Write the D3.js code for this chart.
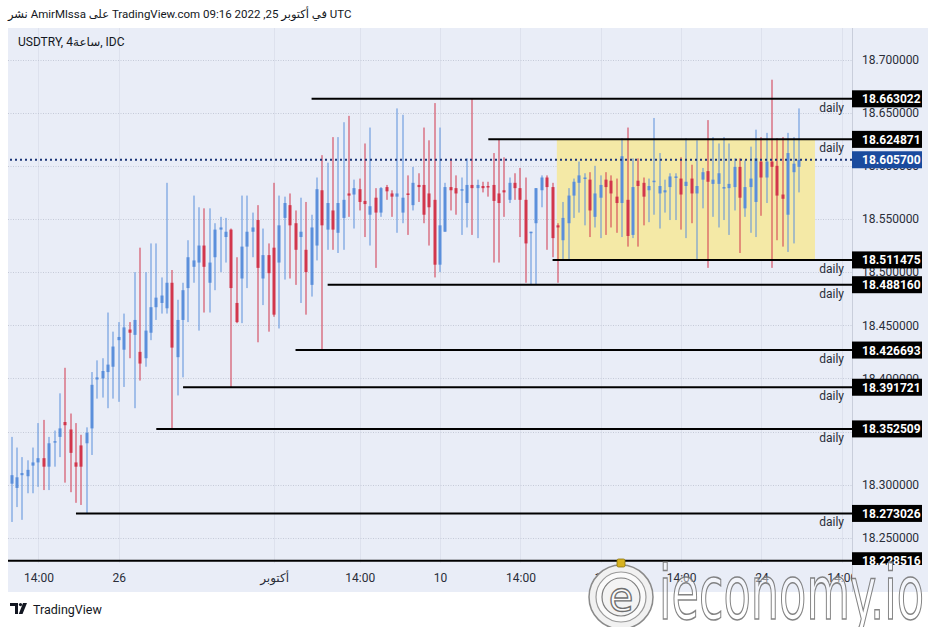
<!DOCTYPE html>
<html><head><meta charset="utf-8">
<script src="https://cdn.jsdelivr.net/npm/d3@7"></script>
<style>
body{margin:0;background:#fff;}
svg{display:block;font-family:Roboto,"DejaVu Sans",sans-serif;}
</style>
</head><body>
<svg id="c" width="938" height="627"></svg>
<script>
// ---------------- DATA ----------------
const opens = [18.301,18.297,18.309,18.308,18.318,18.321,18.325,18.317,18.340,18.345,
18.359,18.352,18.321,18.337,18.339,18.353,18.399,18.400,18.406,18.411,
18.436,18.427,18.446,18.441,18.425,18.419,18.443,18.467,18.471,18.466,
18.490,18.420,18.455,18.485,18.505,18.509,18.525,18.490,18.514,18.540,
18.533,18.540,18.471,18.494,18.524,18.538,18.549,18.494,18.516,18.523,
18.509,18.551,18.563,18.546,18.533,18.521,18.488,18.525,18.577,18.540,
18.558,18.537,18.551,18.574,18.573,18.578,18.567,18.554,18.570,18.556,
18.580,18.574,18.571,18.556,18.574,18.563,18.582,18.582,18.574,18.568,
18.507,18.538,18.580,18.579,18.577,18.565,18.582,18.579,18.581,18.581,
18.582,18.574,18.577,18.568,18.584,18.579,18.568,18.537,18.546,18.577,
18.589,18.580,18.544,18.530,18.546,18.572,18.584,18.588,18.587,18.552,
18.570,18.587,18.586,18.571,18.565,18.568,18.535,18.586,18.584,18.577,
18.585,18.574,18.575,18.580,18.589,18.588,18.581,18.588,18.574,18.587,
18.595,18.583,18.583,18.579,18.579,18.580,18.599,18.560,18.580,18.566,
18.604,18.589,18.604,18.600,18.573,18.554,18.594,18.599];
const highs = [18.345,18.335,18.326,18.323,18.335,18.358,18.361,18.345,18.351,18.386,
18.410,18.367,18.358,18.347,18.354,18.406,18.417,18.419,18.462,18.444,
18.453,18.461,18.453,18.500,18.523,18.500,18.527,18.527,18.495,18.584,
18.502,18.474,18.490,18.530,18.572,18.561,18.560,18.560,18.546,18.552,
18.551,18.541,18.514,18.572,18.572,18.556,18.563,18.541,18.527,18.584,
18.572,18.571,18.574,18.558,18.570,18.566,18.554,18.589,18.610,18.603,
18.627,18.627,18.641,18.647,18.587,18.588,18.621,18.636,18.579,18.580,
18.582,18.577,18.654,18.648,18.591,18.599,18.593,18.636,18.624,18.659,
18.636,18.584,18.607,18.591,18.589,18.607,18.663,18.587,18.585,18.585,
18.612,18.625,18.608,18.589,18.593,18.598,18.589,18.538,18.579,18.591,
18.591,18.584,18.546,18.566,18.579,18.588,18.604,18.593,18.594,18.600,
18.591,18.594,18.591,18.588,18.626,18.636,18.607,18.607,18.589,18.588,
18.645,18.612,18.587,18.593,18.593,18.608,18.626,18.601,18.624,18.598,
18.643,18.627,18.621,18.627,18.621,18.607,18.607,18.605,18.618,18.634,
18.627,18.631,18.681,18.626,18.627,18.631,18.627,18.654];
const lows = [18.265,18.279,18.267,18.292,18.292,18.298,18.295,18.295,18.317,18.326,
18.302,18.293,18.283,18.281,18.273,18.328,18.381,18.382,18.372,18.381,
18.378,18.392,18.419,18.372,18.398,18.411,18.436,18.455,18.461,18.461,
18.3525,18.384,18.401,18.453,18.490,18.445,18.462,18.462,18.483,18.500,
18.509,18.3917,18.452,18.452,18.485,18.514,18.434,18.469,18.444,18.458,
18.447,18.493,18.494,18.488,18.471,18.460,18.477,18.511,18.4267,18.521,
18.521,18.518,18.521,18.552,18.541,18.558,18.533,18.525,18.504,18.552,
18.568,18.552,18.537,18.546,18.535,18.558,18.566,18.546,18.525,18.495,
18.500,18.538,18.558,18.554,18.535,18.542,18.535,18.532,18.575,18.571,
18.509,18.509,18.552,18.565,18.568,18.533,18.490,18.488,18.488,18.561,
18.521,18.514,18.490,18.5115,18.5115,18.551,18.556,18.544,18.533,18.542,
18.532,18.535,18.542,18.537,18.533,18.524,18.532,18.524,18.544,18.547,
18.554,18.541,18.556,18.549,18.549,18.540,18.532,18.546,18.511,18.560,
18.504,18.552,18.542,18.549,18.535,18.558,18.518,18.552,18.537,18.533,
18.553,18.565,18.504,18.530,18.524,18.519,18.527,18.575];
const closes = [18.309,18.307,18.311,18.314,18.321,18.325,18.317,18.339,18.341,18.353,
18.356,18.330,18.317,18.317,18.349,18.394,18.401,18.407,18.413,18.430,
18.439,18.448,18.443,18.455,18.414,18.445,18.467,18.476,18.478,18.490,
18.429,18.455,18.483,18.514,18.511,18.525,18.505,18.509,18.540,18.542,
18.538,18.485,18.453,18.524,18.538,18.542,18.504,18.516,18.499,18.460,
18.544,18.565,18.544,18.521,18.538,18.500,18.542,18.578,18.544,18.565,
18.540,18.565,18.568,18.572,18.579,18.566,18.564,18.562,18.556,18.579,
18.576,18.571,18.574,18.570,18.573,18.584,18.580,18.554,18.561,18.507,
18.544,18.580,18.577,18.574,18.578,18.582,18.579,18.582,18.579,18.580,
18.567,18.565,18.575,18.584,18.579,18.568,18.527,18.538,18.579,18.589,
18.580,18.532,18.542,18.551,18.572,18.585,18.591,18.589,18.558,18.574,
18.582,18.580,18.574,18.565,18.609,18.534,18.580,18.581,18.571,18.581,
18.586,18.581,18.577,18.590,18.590,18.573,18.585,18.574,18.581,18.594,
18.585,18.587,18.593,18.580,18.583,18.599,18.570,18.580,18.588,18.607,
18.589,18.604,18.599,18.572,18.569,18.612,18.602,18.6057];

const xTickIndex = [5, 20, 49, 65, 80, 95, 110, 125, 140, 155];
const xTickLabels = ["14:00","26","أكتوبر","14:00","10","14:00","17","14:00","24","14:00"];
const yTicks = [18.25,18.30,18.35,18.40,18.45,18.50,18.55,18.60,18.65,18.70];

const levelValues = [18.663022,18.624871,18.511475,18.488160,18.426693,18.391721,18.352509,18.273026,18.228516];
const levelStartIndex = [56, 89, 101, 59, 53, 32, 27, 12, -5];
const levelNotes = ["daily","daily","daily","daily","daily","daily","daily","daily",""];
const lastPrice = 18.605700;
const boxIndexRange = [101.8, 150];
const boxPriceRange = [18.624871, 18.511475];

const titleText = "نشر AmirMlssa على TradingView.com في أكتوبر 25, 2022 09:16 UTC";
const symbolText = "USDTRY, 4ساعة, IDC";

// ---------------- LAYOUT ----------------
const L = 8, R = 852, T = 28, B = 563, PR = 928, PB = 592;
const UP = "#5b8fdb", DOWN = "#d2364c";

const svg = d3.select("#c");
const candles = opens.map((o,i)=>({i, o, h:highs[i], l:lows[i], c:closes[i]}));

const x = d3.scaleLinear().domain([0, 147]).range([11.7, 798.9]);
const y = d3.scaleLinear().domain([18.25, 18.70]).range([537.9, 59.5]);

// background
svg.append("rect").attr("x",0).attr("y",0).attr("width",938).attr("height",627).attr("fill","#fff");
svg.append("rect").attr("x",L).attr("y",T).attr("width",PR-L).attr("height",PB-T).attr("fill","#e9edf7");

// title
svg.append("text").attr("x",8).attr("y",18).attr("font-size",11.5).attr("fill","#131722")
  .attr("direction","ltr").text(titleText);

const defs = svg.append("defs");
defs.append("clipPath").attr("id","plot").append("rect").attr("x",L).attr("y",T).attr("width",R-L).attr("height",B-T);
defs.append("clipPath").attr("id","xax").append("rect").attr("x",L).attr("y",B).attr("width",R-L).attr("height",PB-B);
defs.append("clipPath").attr("id","yax").append("rect").attr("x",R).attr("y",T).attr("width",PR-R).attr("height",B+2-T);

const plot = svg.append("g").attr("clip-path","url(#plot)");

// vertical grid
plot.selectAll("line.vg").data(xTickIndex).join("line").attr("class","vg")
  .attr("x1",d=>Math.round(x(d))+0.5).attr("x2",d=>Math.round(x(d))+0.5)
  .attr("y1",T).attr("y2",B).attr("stroke","#dde1ed").attr("stroke-width",1);
// horizontal grid
plot.selectAll("line.hg").data(yTicks).join("line").attr("class","hg")
  .attr("x1",L).attr("x2",R).attr("y1",d=>Math.round(y(d))+0.5).attr("y2",d=>Math.round(y(d))+0.5)
  .attr("stroke","#c5cad8").attr("stroke-width",1).attr("stroke-dasharray","1 1.5");

// yellow box
plot.append("rect")
  .attr("x",x(boxIndexRange[0])).attr("width",x(boxIndexRange[1])-x(boxIndexRange[0]))
  .attr("y",y(boxPriceRange[0])).attr("height",y(boxPriceRange[1])-y(boxPriceRange[0]))
  .attr("fill","#f4e9a6");

// candles
const cg = plot.append("g");
cg.selectAll("rect.wick").data(candles).join("rect").attr("class","wick")
  .attr("x",d=>Math.round(x(d.i))-0.5).attr("width",1)
  .attr("y",d=>y(d.h)).attr("height",d=>Math.max(1,y(d.l)-y(d.h)))
  .attr("fill",d=>d.c>=d.o?UP:DOWN);
cg.selectAll("rect.body").data(candles).join("rect").attr("class","body")
  .attr("x",d=>Math.round(x(d.i))-1.5).attr("width",3)
  .attr("y",d=>y(Math.max(d.o,d.c))).attr("height",d=>Math.max(1.5,Math.abs(y(d.o)-y(d.c))))
  .attr("fill",d=>d.c>=d.o?UP:DOWN);

// level lines
const levels = levelValues.map((v,i)=>({v, s:levelStartIndex[i], note:levelNotes[i]}));
plot.selectAll("line.lv").data(levels).join("line").attr("class","lv")
  .attr("x1",d=>x(d.s)).attr("x2",R).attr("y1",d=>y(d.v)).attr("y2",d=>y(d.v))
  .attr("stroke","#000").attr("stroke-width",2);
plot.selectAll("text.note").data(levels.filter(d=>d.note)).join("text").attr("class","note")
  .attr("x",844).attr("y",d=>y(d.v)+13).attr("text-anchor","end")
  .attr("font-size",12).attr("fill","#2a2e39").text(d=>d.note);

// last price dotted line
plot.append("line").attr("x1",L+2).attr("x2",R).attr("y1",y(lastPrice)).attr("y2",y(lastPrice))
  .attr("stroke","#1b3577").attr("stroke-width",2).attr("stroke-dasharray","2 3");

// symbol label
svg.append("text").attr("x",18).attr("y",46).attr("font-size",12).attr("fill","#131722").text(symbolText);

// x axis
const xAxis = d3.axisBottom(x).tickValues(xTickIndex).tickFormat((d,i)=>xTickLabels[i]).tickSize(0).tickPadding(10);
const xg = svg.append("g").attr("clip-path","url(#xax)").append("g").attr("transform",`translate(0,${B})`).call(xAxis);
xg.select(".domain").remove();
xg.selectAll("text").attr("font-size",12).attr("fill","#2a2e39").attr("font-family","Roboto,'DejaVu Sans',sans-serif");

// y axis
svg.append("line").attr("x1",R+0.5).attr("x2",R+0.5).attr("y1",T).attr("y2",PB).attr("stroke","#c9cedb");
const yAxis = d3.axisRight(y).tickValues(yTicks).tickFormat(d3.format(".6f")).tickSize(0).tickPadding(10);
const yClip = svg.append("g").attr("clip-path","url(#yax)");
const yg = yClip.append("g").attr("transform",`translate(${R},0)`).call(yAxis);
yg.select(".domain").remove();
yg.selectAll("text").attr("font-size",12).attr("fill","#2a2e39").attr("font-family","Roboto,'DejaVu Sans',sans-serif");

// price boxes
const boxes = yClip.selectAll("g.pb").data(levelValues.map(v=>({v, blue:false})).concat([{v:lastPrice, blue:true}]))
  .join("g").attr("class","pb").attr("transform",d=>`translate(${R},${y(d.v)})`);
boxes.append("rect").attr("x",0).attr("y",-8.5).attr("width",70).attr("height",17)
  .attr("fill",d=>d.blue?"#1a4b9e":"#000");
boxes.append("text").attr("x",10).attr("y",4.5).attr("font-size",12).attr("font-weight","bold")
  .attr("fill","#fff").text(d=>d3.format(".6f")(d.v));

// TradingView footer logo
const tv = svg.append("g").attr("transform","translate(10,603)");
tv.append("path").attr("d","M0 0 H8 V11 H5 V3 H0 Z").attr("fill","#131722");
tv.append("circle").attr("cx",10.5).attr("cy",1.6).attr("r",1.6).attr("fill","#131722");
tv.append("path").attr("d","M13 0 H17 L12.5 11 H8.8 Z").attr("fill","#131722");
svg.append("text").attr("x",33).attr("y",614).attr("font-size",12.5).attr("fill","#131722").text("TradingView");

// watermark
const wm = svg.append("g");
wm.append("circle").attr("cx",621).attr("cy",597).attr("r",32).attr("fill","#f1f1f1").attr("stroke","#8a8a8a").attr("stroke-width",1.5);
wm.append("circle").attr("cx",621).attr("cy",597).attr("r",25).attr("fill","#fafafa").attr("stroke","#9a9a9a").attr("stroke-width",1.2);
wm.append("circle").attr("cx",621).attr("cy",597).attr("r",19).attr("fill","#f3f3f3").attr("stroke","#7d7d7d").attr("stroke-width",1.2);
wm.append("text").attr("x",621).attr("y",611).attr("text-anchor","middle").attr("font-size",40)
  .attr("font-family","'DejaVu Sans',sans-serif").attr("fill","#fbfbfb").attr("stroke","#6f6f6f").attr("stroke-width",1.3).text("e");
wm.append("rect").attr("x",617).attr("y",559).attr("width",8).attr("height",8).attr("rx",1.5).attr("fill","#d7b21f").attr("stroke","#8a7410").attr("stroke-width",0.8);
wm.append("text").attr("x",659).attr("y",619).attr("font-size",74).attr("textLength",265).attr("lengthAdjust","spacingAndGlyphs")
  .attr("font-family","'DejaVu Sans',sans-serif").attr("fill","#ffffff").attr("fill-opacity",0.45)
  .attr("stroke","#6e6e6e").attr("stroke-width",1.6).attr("stroke-opacity",0.85).text("ieconomy.io");
</script>
</body></html>
